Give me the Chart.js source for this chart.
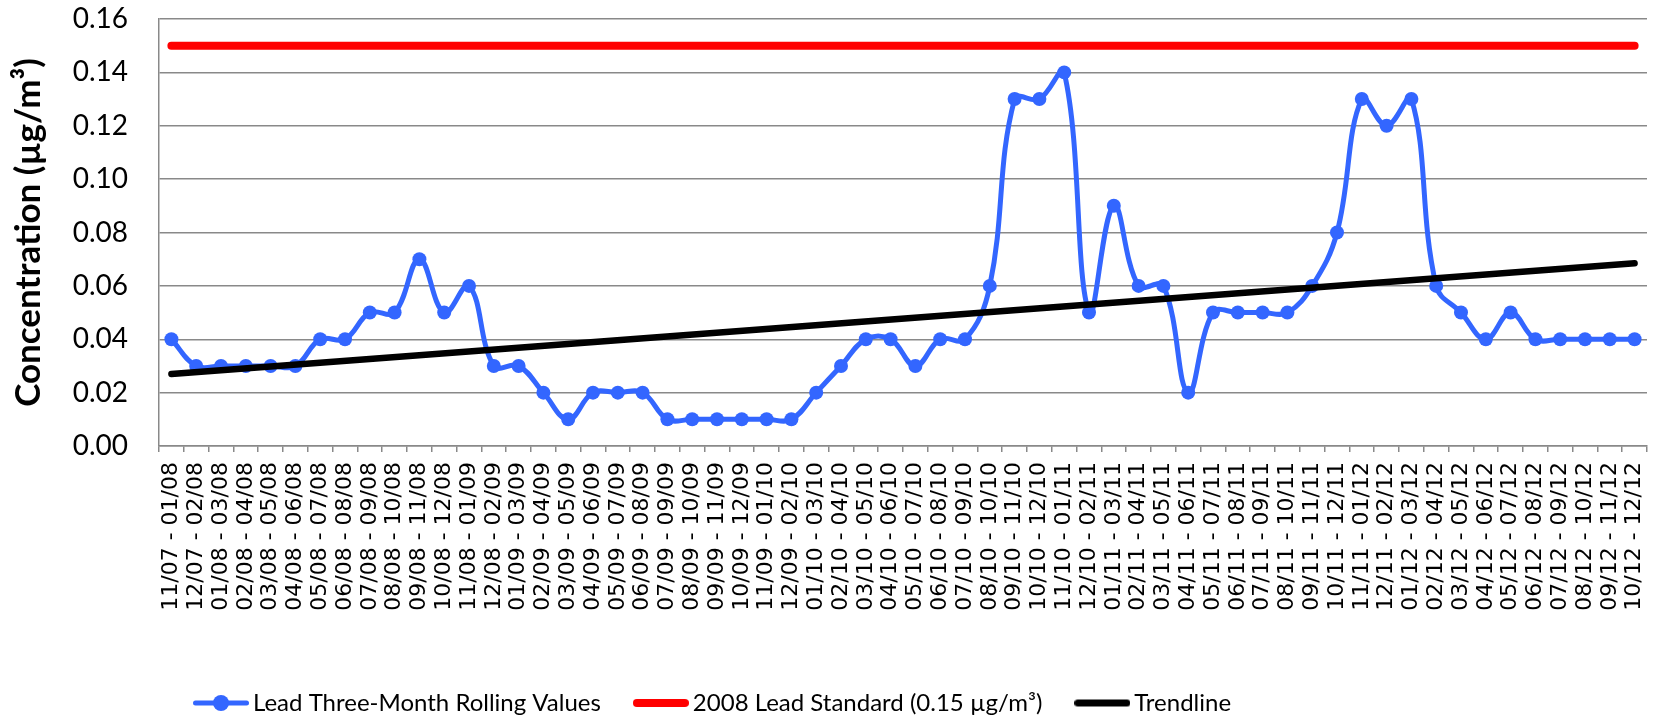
<!DOCTYPE html>
<html>
<head>
<meta charset="utf-8">
<script src="https://cdn.jsdelivr.net/npm/chart.js@4.4.1/dist/chart.umd.min.js"></script>
<style>
  html, body { margin: 0; padding: 0; background: #fff; }
  #wrap { width: 1657px; height: 721px; }
</style>
</head>
<body>
<div id="wrap"><canvas id="leadChart" width="1657" height="721"></canvas></div>
<script>
// three-month rolling windows (x categories)
const periods = [
  '11/07 - 01/08', '12/07 - 02/08', '01/08 - 03/08', '02/08 - 04/08', '03/08 - 05/08',
  '04/08 - 06/08', '05/08 - 07/08', '06/08 - 08/08', '07/08 - 09/08', '08/08 - 10/08',
  '09/08 - 11/08', '10/08 - 12/08', '11/08 - 01/09', '12/08 - 02/09', '01/09 - 03/09',
  '02/09 - 04/09', '03/09 - 05/09', '04/09 - 06/09', '05/09 - 07/09', '06/09 - 08/09',
  '07/09 - 09/09', '08/09 - 10/09', '09/09 - 11/09', '10/09 - 12/09', '11/09 - 01/10',
  '12/09 - 02/10', '01/10 - 03/10', '02/10 - 04/10', '03/10 - 05/10', '04/10 - 06/10',
  '05/10 - 07/10', '06/10 - 08/10', '07/10 - 09/10', '08/10 - 10/10', '09/10 - 11/10',
  '10/10 - 12/10', '11/10 - 01/11', '12/10 - 02/11', '01/11 - 03/11', '02/11 - 04/11',
  '03/11 - 05/11', '04/11 - 06/11', '05/11 - 07/11', '06/11 - 08/11', '07/11 - 09/11',
  '08/11 - 10/11', '09/11 - 11/11', '10/11 - 12/11', '11/11 - 01/12', '12/11 - 02/12',
  '01/12 - 03/12', '02/12 - 04/12', '03/12 - 05/12', '04/12 - 06/12', '05/12 - 07/12',
  '06/12 - 08/12', '07/12 - 09/12', '08/12 - 10/12', '09/12 - 11/12', '10/12 - 12/12'
];

// lead three-month rolling values (µg/m³)
const rollingValues = [
  0.04, 0.03, 0.03, 0.03, 0.03, 0.03, 0.04, 0.04, 0.05, 0.05,
  0.07, 0.05, 0.06, 0.03, 0.03, 0.02, 0.01, 0.02, 0.02, 0.02,
  0.01, 0.01, 0.01, 0.01, 0.01, 0.01, 0.02, 0.03, 0.04, 0.04,
  0.03, 0.04, 0.04, 0.06, 0.13, 0.13, 0.14, 0.05, 0.09, 0.06,
  0.06, 0.02, 0.05, 0.05, 0.05, 0.05, 0.06, 0.08, 0.13, 0.12,
  0.13, 0.06, 0.05, 0.04, 0.05, 0.04, 0.04, 0.04, 0.04, 0.04
];

const leadStandard = 0.15;
// trendline end values
const trendStart = 0.027;
const trendEnd = 0.0685;

const yTicks = [0, 0.02, 0.04, 0.06, 0.08, 0.10, 0.12, 0.14, 0.16];

const BLUE = '#3366ff';
const RED = '#ff0000';
const GRID = '#898989';

// little legend markers like excel's (line + marker)
function legendMarker(color, lineW, dotR) {
  const c = document.createElement('canvas');
  c.width = 56;
  c.height = Math.max(lineW, dotR * 2) + 2;
  const g = c.getContext('2d');
  const cy = c.height / 2;
  g.strokeStyle = color;
  g.lineWidth = lineW;
  g.lineCap = 'round';
  g.beginPath();
  g.moveTo(lineW / 2, cy);
  g.lineTo(56 - lineW / 2, cy);
  g.stroke();
  if (dotR) {
    g.fillStyle = color;
    g.beginPath();
    g.arc(28, cy, dotR, 0, Math.PI * 2);
    g.fill();
  }
  return c;
}
const markers = [legendMarker(BLUE, 5, 8), legendMarker(RED, 8, 0), legendMarker('#000', 7, 0)];

// excel puts the legend left of centre, move it there
const legendStartX = 201;
const legendShift = {
  id: 'legendShift',
  afterLayout(chart) {
    const lg = chart.legend;
    const dx = legendStartX - (lg.left + lg.options.labels.padding);
    lg.left += dx;
    lg.right += dx;
    lg.top += 4;
    lg.bottom += 4;
  }
};

const PLOT_LEFT = 159;
const PLOT_BOTTOM = 446;

const ctx = document.getElementById('leadChart').getContext('2d');
new Chart(ctx, {
  type: 'line',
  data: {
    labels: periods,
    datasets: [{
      label: 'Lead Three-Month Rolling Values',
      data: rollingValues,
      borderColor: BLUE,
      backgroundColor: BLUE,
      borderWidth: 5,
      tension: 0.4,
      pointRadius: 7,
      pointBorderWidth: 0,
      pointBackgroundColor: BLUE,
      order: 2
    }, {
      label: '2008 Lead Standard (0.15 µg/m³)',
      data: [{ x: periods[0], y: leadStandard }, { x: periods[periods.length - 1], y: leadStandard }],
      borderColor: RED,
      backgroundColor: RED,
      borderWidth: 8,
      borderCapStyle: 'round',
      pointRadius: 0,
      order: 1
    }, {
      label: 'Trendline',
      data: [{ x: periods[0], y: trendStart }, { x: periods[periods.length - 1], y: trendEnd }],
      borderColor: '#000',
      backgroundColor: '#000',
      borderWidth: 6.5,
      borderCapStyle: 'round',
      pointRadius: 0,
      order: 0
    }]
  },
  plugins: [legendShift],
  options: {
    responsive: false,
    animation: false,
    layout: { padding: { top: 19, right: 10, left: 0, bottom: 0 } },
    plugins: {
      tooltip: { enabled: false },
      legend: {
        position: 'bottom',
        align: 'start',
        labels: {
          usePointStyle: true,
          pointStyleWidth: 40,
          padding: 40,
          color: '#000',
          font: { family: 'Lato', size: 24 },
          sort: (a, b) => a.datasetIndex - b.datasetIndex,
          generateLabels(chart) {
            const items = Chart.defaults.plugins.legend.labels.generateLabels(chart);
            items.forEach(it => { it.pointStyle = markers[it.datasetIndex]; });
            return items;
          }
        }
      }
    },
    scales: {
      x: {
        offset: true,
        grid: {
          offset: true,
          drawOnChartArea: false,
          drawTicks: true,
          tickLength: 6,
          color: GRID,
          lineWidth: 1.5
        },
        border: { color: GRID, width: 1.5 },
        ticks: {
          autoSkip: false,
          maxRotation: 90,
          minRotation: 90,
          padding: 10,
          color: '#000',
          font: { family: 'DejaVu Sans', size: 22 }
        },
        afterFit(s) {
          s.height = s.chart.height - PLOT_BOTTOM - s.chart.legend.height;
          s.paddingLeft = 0;
          s.paddingRight = 0;
        }
      },
      y: {
        min: 0,
        max: 0.16,
        afterBuildTicks(s) { s.ticks = yTicks.map(v => ({ value: v })); },
        grid: { color: GRID, lineWidth: 1.5, drawTicks: false },
        border: { color: GRID, width: 1.5 },
        ticks: {
          padding: 31,
          color: '#000',
          font: { family: 'Lato', size: 28 },
          callback: v => v.toFixed(2)
        },
        title: {
          display: true,
          text: 'Concentration (µg/m³)',
          color: '#000',
          font: { family: 'Lato', size: 35, weight: 'bold' },
          padding: { top: 8, bottom: 0 }
        },
        afterFit(s) {
          s.width = PLOT_LEFT;
          s.paddingTop = 0;
          s.paddingBottom = 0;
        }
      }
    }
  }
});
</script>
</body>
</html>
